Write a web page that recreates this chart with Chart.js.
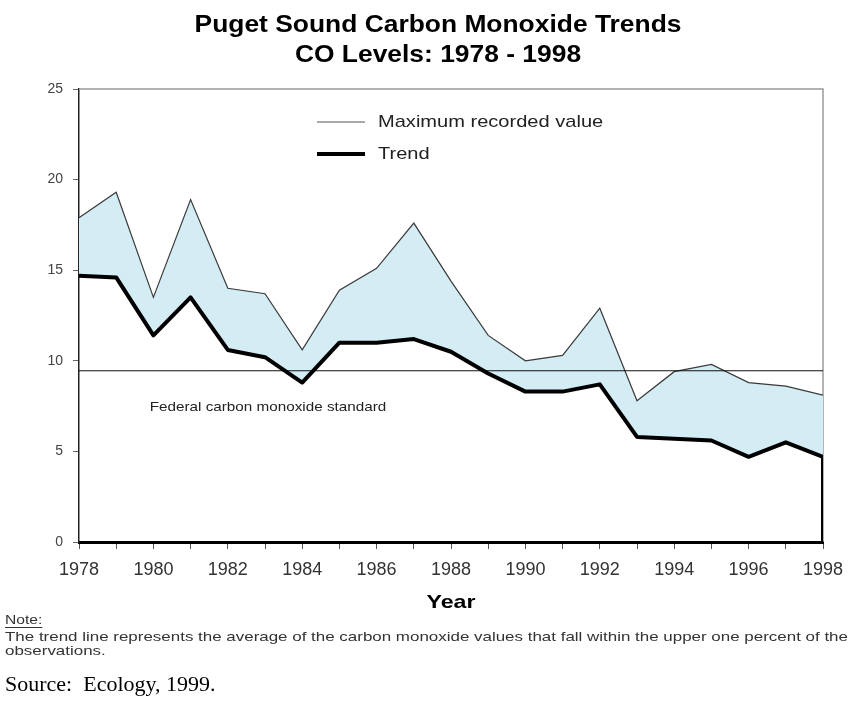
<!DOCTYPE html>
<html>
<head>
<meta charset="utf-8">
<title>Puget Sound Carbon Monoxide Trends</title>
<script src="https://cdn.jsdelivr.net/npm/chart.js@4.4.1/dist/chart.umd.min.js"></script>
<style>
  html, body { margin: 0; padding: 0; background: #fff; }
  canvas { display: block; }
</style>
</head>
<body>
<canvas id="coChart" width="864" height="704"></canvas>
<script>
const years = [1978, 1979, 1980, 1981, 1982, 1983, 1984, 1985, 1986, 1987, 1988,
  1989, 1990, 1991, 1992, 1993, 1994, 1995, 1996, 1997, 1998];
const maxValues = [17.9, 19.3, 13.5, 18.9, 14.0, 13.7, 10.6, 13.9, 15.1, 17.6, 14.4,
  11.4, 10.0, 10.3, 12.9, 7.8, 9.4, 9.8, 8.8, 8.6, 8.1];
const trendValues = [14.7, 14.6, 11.4, 13.5, 10.6, 10.2, 8.8, 11.0, 11.0, 11.2, 10.5,
  9.3, 8.3, 8.3, 8.7, 5.8, 5.7, 5.6, 4.7, 5.5, 4.7];
const federalStandard = 9.45;
const yearLabels = [1978, 1980, 1982, 1984, 1986, 1988, 1990, 1992, 1994, 1996, 1998];
const coTicks = [0, 5, 10, 15, 20, 25];

const SANS = '"Liberation Sans", Arial, sans-serif';
const SERIF = '"Liberation Serif", "Times New Roman", serif';

const toPoints = (values) => values.map((v, i) => ({ x: years[i], y: v }));
const firstYear = years[0];
const lastYear = years[years.length - 1];

// text is drawn slightly wide, like the old spreadsheet export
function drawText(ctx, text, x, y, opts) {
  ctx.save();
  ctx.font = opts.font;
  ctx.fillStyle = opts.color || "#000";
  ctx.textBaseline = "middle";
  ctx.textAlign = opts.align || "left";
  ctx.translate(x, y);
  ctx.scale(opts.stretch || 1, 1);
  ctx.fillText(text, 0, 0);
  if (opts.underline) {
    const w = ctx.measureText(text).width;
    ctx.fillRect(0, 7, w, 1);
  }
  ctx.restore();
}

const decorations = {
  id: "decorations",
  beforeDatasetsDraw(chart) {
    const { ctx, chartArea } = chart;
    // thin grey frame on top and right
    ctx.save();
    ctx.strokeStyle = "#9a9a9a";
    ctx.lineWidth = 1.5;
    ctx.beginPath();
    ctx.moveTo(chartArea.left, chartArea.top);
    ctx.lineTo(chartArea.right, chartArea.top);
    ctx.lineTo(chartArea.right, chartArea.bottom);
    ctx.stroke();
    ctx.restore();
  },
  afterDraw(chart) {
    const { ctx, chartArea } = chart;
    const x = chart.scales.x;
    const y = chart.scales.y;

    drawText(ctx, "Puget Sound Carbon Monoxide Trends", 438, 25,
      { font: "bold 24px " + SANS, align: "center", stretch: 1.1 });
    drawText(ctx, "CO Levels: 1978 - 1998", 438, 55,
      { font: "bold 24px " + SANS, align: "center", stretch: 1.1 });

    // legend
    ctx.save();
    ctx.strokeStyle = "#555";
    ctx.lineWidth = 1;
    ctx.beginPath();
    ctx.moveTo(317, 122);
    ctx.lineTo(365, 122);
    ctx.stroke();
    ctx.strokeStyle = "#000";
    ctx.lineWidth = 4;
    ctx.beginPath();
    ctx.moveTo(317, 154);
    ctx.lineTo(365, 154);
    ctx.stroke();
    ctx.restore();
    drawText(ctx, "Maximum recorded value", 378, 122,
      { font: "17px " + SANS, color: "#222", stretch: 1.18 });
    drawText(ctx, "Trend", 378, 154,
      { font: "17px " + SANS, color: "#222", stretch: 1.18 });

    drawText(ctx, "Federal carbon monoxide standard", x.getPixelForValue(1979.9),
      y.getPixelForValue(federalStandard) + 37,
      { font: "13.5px " + SANS, color: "#222", stretch: 1.13 });

    drawText(ctx, "Year", (chartArea.left + chartArea.right) / 2, 603,
      { font: "bold 19px " + SANS, align: "center", stretch: 1.22 });

    drawText(ctx, "Note:", 5, 620, { font: "13px " + SANS, color: "#333", underline: true, stretch: 1.2 });
    drawText(ctx, "The trend line represents the average of the carbon monoxide values that fall within the upper one percent of the",
      5, 637, { font: "13.5px " + SANS, color: "#333", stretch: 1.255 });
    drawText(ctx, "observations.", 5, 651, { font: "13.5px " + SANS, color: "#333", stretch: 1.255 });
    drawText(ctx, "Source:  Ecology, 1999.", 5, 686, { font: "20px " + SERIF, color: "#000", stretch: 1.1 });
  },
};

const config = {
  type: "line",
  data: {
    datasets: [
      {
        label: "Maximum recorded value",
        data: toPoints(maxValues),
        borderColor: "#3a3a3a",
        borderWidth: 1.2,
        backgroundColor: "#d4ecf3",
        fill: { target: 1 },
        pointRadius: 0,
        order: 3,
      },
      {
        label: "Trend",
        data: toPoints(trendValues),
        borderColor: "#000",
        borderWidth: 4,
        borderJoinStyle: "round",
        fill: false,
        pointRadius: 0,
        order: 1,
      },
      {
        label: "Trend edge",
        data: [
          { x: lastYear, y: trendValues[trendValues.length - 1] },
          { x: lastYear, y: 0 },
        ],
        borderColor: "#000",
        borderWidth: 4,
        fill: false,
        pointRadius: 0,
        order: 1,
      },
      {
        label: "Federal standard",
        data: [
          { x: firstYear, y: federalStandard },
          { x: lastYear, y: federalStandard },
        ],
        borderColor: "#111",
        borderWidth: 1,
        fill: false,
        pointRadius: 0,
        order: 2,
      },
    ],
  },
  options: {
    responsive: false,
    animation: false,
    layout: {
      padding: { left: 0, top: 89, right: 41, bottom: 122 },
    },
    plugins: {
      legend: { display: false },
      title: { display: false },
      tooltip: { enabled: false },
    },
    scales: {
      x: {
        type: "linear",
        min: firstYear,
        max: lastYear,
        afterFit: (scale) => { scale.height = 40; },
        afterBuildTicks: (scale) => {
          scale.ticks = years.map((v) => ({ value: v }));
        },
        ticks: {
          autoSkip: false,
          maxRotation: 0,
          padding: 10,
          color: "#333",
          font: { family: SANS, size: 18 },
          callback: (v) => (yearLabels.includes(v) ? String(v) : ""),
        },
        grid: {
          drawOnChartArea: false,
          tickLength: 7,
          color: "#555",
        },
        border: { color: "#000", width: 3 },
      },
      y: {
        min: 0,
        max: 25,
        afterFit: (scale) => { scale.width = 79; },
        afterBuildTicks: (scale) => {
          scale.ticks = coTicks.map((v) => ({ value: v }));
        },
        ticks: {
          padding: 10,
          color: "#444",
          font: { family: SANS, size: 14 },
        },
        grid: {
          drawOnChartArea: false,
          tickLength: 6,
          color: "#666",
        },
        border: { color: "#222", width: 1.5 },
      },
    },
  },
  plugins: [decorations],
};

const coChart = new Chart(document.getElementById("coChart").getContext("2d"), config);
</script>
</body>
</html>
